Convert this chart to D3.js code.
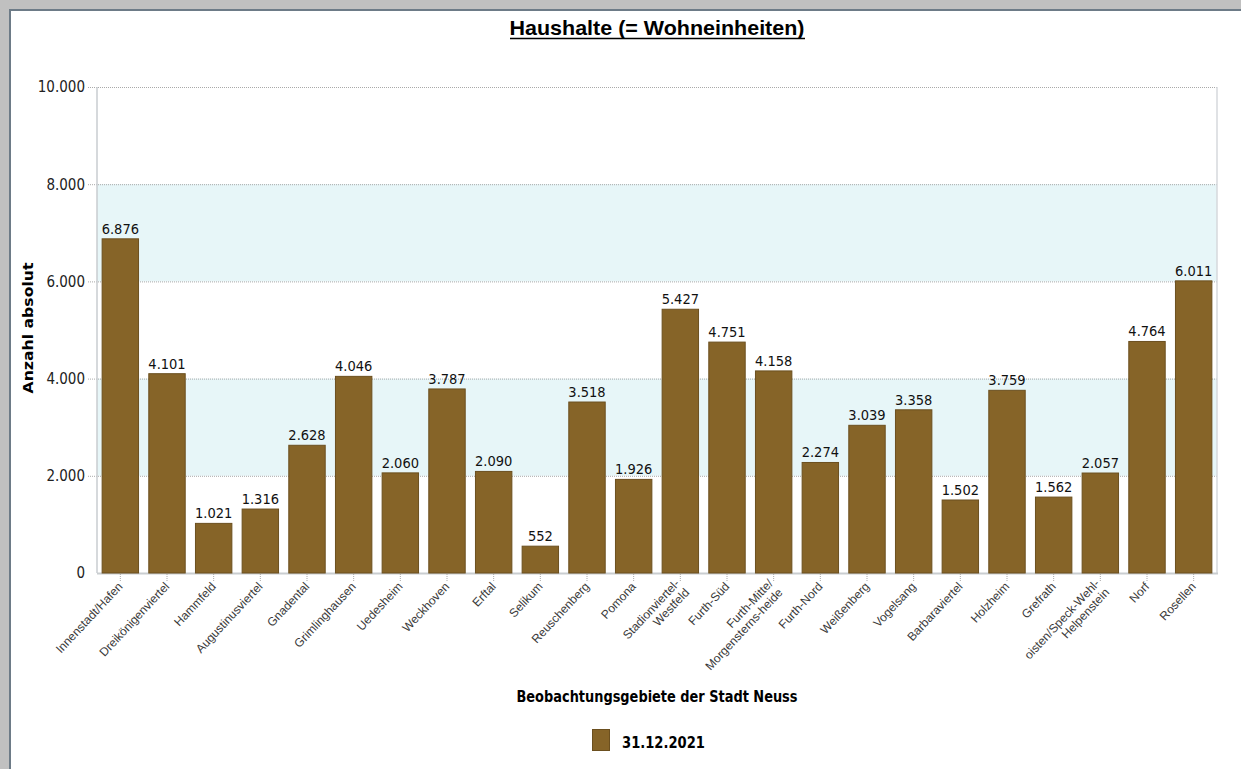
<!DOCTYPE html>
<html>
<head>
<meta charset="utf-8">
<script src="https://cdn.jsdelivr.net/npm/d3@7"></script>
<style>
  body { margin: 0; background: #fff; }
  svg { display: block; }
</style>
</head>
<body>
<script>
var width = 1241,
    height = 769;

// data
var gebiete = ["Innenstadt/Hafen", "Dreikönigenviertel", "Hammfeld", "Augustinusviertel", "Gnadental",
    "Grimlinghausen", "Uedesheim", "Weckhoven", "Erftal", "Selikum", "Reuschenberg", "Pomona",
    "Stadionviertel-|Westfeld", "Furth-Süd", "Furth-Mitte/|Morgensterns-heide", "Furth-Nord",
    "Weißenberg", "Vogelsang", "Barbaraviertel", "Holzheim", "Grefrath",
    "oisten/Speck-Wehl-|Helpenstein", "Norf", "Rosellen"];
var haushalte = [6876, 4101, 1021, 1316, 2628, 4046, 2060, 3787, 2090, 552, 3518, 1926,
    5427, 4751, 4158, 2274, 3039, 3358, 1502, 3759, 1562, 2057, 4764, 6011];
var yTicks = [0, 2000, 4000, 6000, 8000, 10000];
var bands = [[2000, 4000], [6000, 8000]];
var serie = "31.12.2021";

var fmt = d3.formatLocale({decimal: ",", thousands: ".", grouping: [3], currency: ["", "€"]}).format(",d");

var svg = d3.select("body").append("svg").attr("width", width).attr("height", height);

// window frame
svg.append("rect").attr("width", width).attr("height", height).attr("fill", "#c0c0c0");
svg.append("rect").attr("x", 9).attr("y", 9).attr("width", width - 9).attr("height", height - 9).attr("fill", "#6d7b87");
svg.append("rect").attr("x", 11).attr("y", 11).attr("width", width - 11).attr("height", height - 11).attr("fill", "#fff");

var pLeft = 97, pRight = 1217, pTop = 87, pBottom = 573;

var x = d3.scaleBand().domain(gebiete).range([pLeft, pRight]).paddingInner(0.22).paddingOuter(0.11);
var y = d3.scaleLinear().domain([0, 10000]).range([pBottom, pTop]);

// light bands
svg.selectAll("rect.band").data(bands).enter().append("rect")
    .attr("class", "band")
    .attr("x", pLeft)
    .attr("y", d => y(d[1]))
    .attr("width", pRight - pLeft)
    .attr("height", d => y(d[0]) - y(d[1]))
    .attr("fill", "#e7f6f8");

// y axis with dotted gridlines
var yAxis = d3.axisLeft(y).tickValues(yTicks).tickFormat(fmt).tickSize(-(pRight - pLeft + 9)).tickPadding(3);
var gy = svg.append("g").attr("transform", "translate(" + (pLeft - 9) + ",0)").call(yAxis);
gy.select(".domain").remove();
gy.selectAll(".tick line")
    .attr("stroke", "#a9a9a9")
    .attr("stroke-dasharray", "1,1")
    .attr("display", d => d === 0 ? "none" : null);
gy.selectAll(".tick text")
    .attr("font-family", "'DejaVu Sans Condensed', 'DejaVu Sans', sans-serif")
    .attr("font-size", 15)
    .attr("fill", "#222");

// plot border lines
svg.append("line").attr("x1", pLeft).attr("x2", pLeft).attr("y1", pTop).attr("y2", pBottom)
    .attr("stroke", "#c9cdd0").attr("stroke-width", 1.5);
svg.append("line").attr("x1", pRight).attr("x2", pRight).attr("y1", pTop).attr("y2", pBottom)
    .attr("stroke", "#d6d9dc").attr("stroke-width", 1.5);
svg.append("line").attr("x1", pLeft).attr("x2", pRight + 1).attr("y1", pBottom + 0.5).attr("y2", pBottom + 0.5)
    .attr("stroke", "#c9cdd0").attr("stroke-width", 2);

// bars
svg.selectAll("rect.bar").data(haushalte).enter().append("rect")
    .attr("class", "bar")
    .attr("x", (d, i) => x(gebiete[i]))
    .attr("y", d => y(d))
    .attr("width", x.bandwidth())
    .attr("height", d => y(0) - y(d))
    .attr("fill", "#866428")
    .attr("stroke", "#6b4f1f")
    .attr("stroke-width", 1);

// value labels
svg.selectAll("text.val").data(haushalte).enter().append("text")
    .attr("class", "val")
    .attr("x", (d, i) => x(gebiete[i]) + x.bandwidth() / 2)
    .attr("y", d => y(d) - 5)
    .attr("text-anchor", "middle")
    .attr("font-family", "'DejaVu Sans Condensed', 'DejaVu Sans', sans-serif")
    .attr("font-size", 14.5)
    .attr("fill", "#111")
    .text(d => fmt(d));

// x axis ticks (dotted) and rotated labels
var xAxis = d3.axisBottom(x).tickSize(8).tickPadding(0).tickFormat("");
var gx = svg.append("g").attr("transform", "translate(0," + (pBottom + 1) + ")").call(xAxis);
gx.select(".domain").remove();
gx.selectAll(".tick line").attr("stroke", "#a9a9a9").attr("stroke-dasharray", "1,1");

var xl = svg.selectAll("text.xl").data(gebiete).enter().append("text")
    .attr("class", "xl")
    .attr("font-family", "'Liberation Sans', Arial, sans-serif")
    .attr("font-size", 12)
    .attr("fill", "#3a3a3a")
    .attr("text-anchor", "end")
    .attr("transform", d => {
        var n = d.split("|").length;
        var cx = x(d) + x.bandwidth() / 2 + 3, cy = pBottom + 14;
        if (n > 1) { cx -= 3; cy -= 3; }
        return "translate(" + cx + "," + cy + ") rotate(-47)";
    });
xl.each(function (d) {
    var lines = d.split("|");
    var t = d3.select(this);
    lines.forEach(function (s, k) {
        t.append("tspan").attr("x", 0).attr("dy", k === 0 ? 0 : "1.1em").text(s);
    });
});

// titles
svg.append("text")
    .attr("x", 657).attr("y", 35)
    .attr("text-anchor", "middle")
    .attr("font-family", "'Liberation Sans Narrow', 'Liberation Sans', Arial, sans-serif")
    .attr("font-weight", "bold")
    .attr("font-size", 21)
    .attr("textLength", 295).attr("lengthAdjust", "spacingAndGlyphs")
    .attr("fill", "#000")
    .text("Haushalte (= Wohneinheiten)");
svg.append("line").attr("x1", 510).attr("x2", 805).attr("y1", 38.5).attr("y2", 38.5)
    .attr("stroke", "#000").attr("stroke-width", 1.5);

svg.append("text")
    .attr("transform", "translate(33,328) rotate(-90)")
    .attr("text-anchor", "middle")
    .attr("font-family", "'DejaVu Sans', sans-serif")
    .attr("font-weight", "bold")
    .attr("font-size", 14.5)
    .attr("textLength", 131).attr("lengthAdjust", "spacingAndGlyphs")
    .attr("fill", "#000")
    .text("Anzahl absolut");

svg.append("text")
    .attr("x", 657).attr("y", 702)
    .attr("text-anchor", "middle")
    .attr("font-family", "'DejaVu Sans Condensed', 'DejaVu Sans', sans-serif")
    .attr("font-weight", "bold")
    .attr("font-size", 16.5)
    .attr("textLength", 281).attr("lengthAdjust", "spacingAndGlyphs")
    .attr("fill", "#000")
    .text("Beobachtungsgebiete der Stadt Neuss");

// legend
var lg = svg.append("g").attr("transform", "translate(592,729)");
lg.append("rect").attr("x", 0.5).attr("y", 0.5).attr("width", 17).attr("height", 21)
    .attr("fill", "#866428").attr("stroke", "#6b4f1f");
lg.append("text")
    .attr("x", 30).attr("y", 19)
    .attr("font-family", "'DejaVu Sans Condensed', 'DejaVu Sans', sans-serif")
    .attr("font-weight", "bold")
    .attr("font-size", 16)
    .attr("textLength", 83).attr("lengthAdjust", "spacingAndGlyphs")
    .attr("fill", "#000")
    .text(serie);
</script>
</body>
</html>
